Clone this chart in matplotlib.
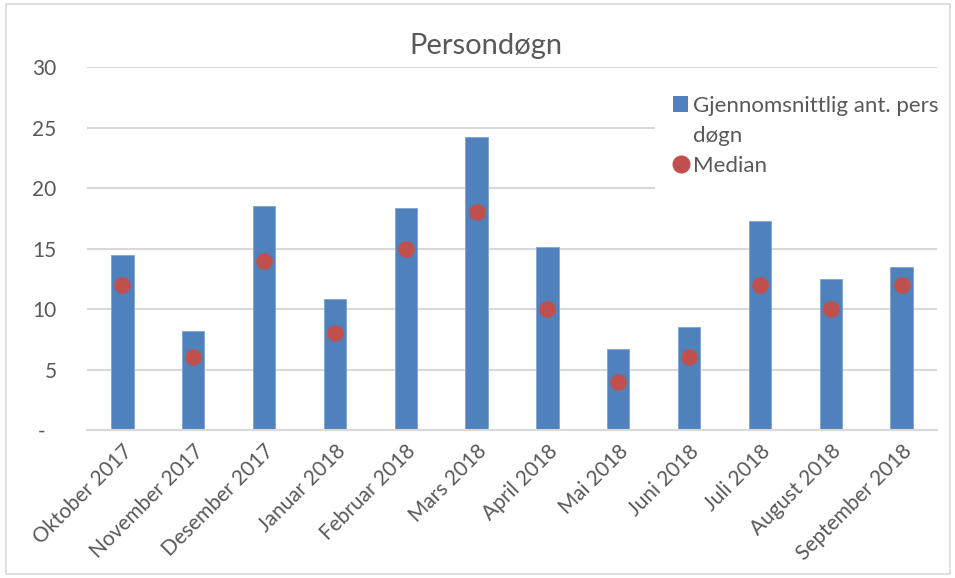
import matplotlib.pyplot as plt
from matplotlib.patches import Patch, Rectangle
from matplotlib.lines import Line2D

plt.rcParams['font.family'] = ['Lato', 'DejaVu Sans']

months = ['Oktober 2017', 'November 2017', 'Desember 2017', 'Januar 2018',
          'Februar 2018', 'Mars 2018', 'April 2018', 'Mai 2018', 'Juni 2018',
          'Juli 2018', 'August 2018', 'September 2018']
avg_pers = [14.45, 8.2, 18.55, 10.85, 18.4, 24.2, 15.15, 6.7, 8.55, 17.3, 12.45, 13.45]
median = [12, 6, 14, 8, 15, 18, 10, 4, 6, 12, 10, 12]
yticks = [0, 5, 10, 15, 20, 25, 30]
ytick_labels = ['-  ', '5', '10', '15', '20', '25', '30']

blue = '#4f81bd'
red = '#c0504d'
text_col = '#595959'
grid_col = '#d9d9d9'

fig = plt.figure(figsize=(9.55, 5.78), dpi=100)
ax = fig.add_axes([87 / 955, 1 - 430 / 578, 850 / 955, (430 - 67.3) / 578])

x = range(len(months))
ax.bar(x, avg_pers, width=0.315, color=blue, edgecolor='#7fa3d0', linewidth=0.6,
       zorder=2, label='Gjennomsnittlig ant. pers')
ax.plot(x, median, 'o', color=red, markersize=11, zorder=3, label='Median')

ax.set_xlim(-0.5, len(months) - 0.5)
ax.set_ylim(0, 30)
ax.set_yticks(yticks)
ax.set_yticklabels(ytick_labels)
ax.set_xticks(list(x))
ax.set_xticklabels(months, rotation=45, ha='right', rotation_mode='anchor')
ax.tick_params(axis='both', length=0, labelsize=15, colors=text_col)
ax.tick_params(axis='y', pad=22)
ax.tick_params(axis='x', pad=8)
ax.yaxis.grid(True, color=grid_col, linewidth=1.5, zorder=0)
ax.set_axisbelow(True)
for side in ['top', 'right', 'left']:
    ax.spines[side].set_visible(False)
ax.spines['bottom'].set_color(grid_col)
ax.spines['bottom'].set_linewidth(1.5)

fig.text(486 / 955, 1 - 46 / 578, 'Persondøgn', ha='center', va='center',
         fontsize=21, color=text_col)

handles = [Patch(facecolor=blue, edgecolor='none'),
           Patch(facecolor='none', edgecolor='none'),
           Line2D([], [], marker='o', color=red, linestyle='none', markersize=12)]
labels = ['Gjennomsnittlig ant. pers', 'døgn', 'Median']
leg = fig.legend(handles, labels, loc='upper left', bbox_to_anchor=(655 / 955, 1 - 78 / 578),
                 frameon=True, facecolor='white', edgecolor='none', framealpha=1,
                 fontsize=16, handlelength=0.7, handleheight=0.7, handletextpad=0.2,
                 labelspacing=0.45, borderpad=0.8, borderaxespad=0)
for t in leg.get_texts():
    t.set_color(text_col)
leg.set_zorder(5)

border = Rectangle((6 / 955, 4 / 578), 944 / 955, 570 / 578,
                   transform=fig.transFigure, fill=False,
                   edgecolor=grid_col, linewidth=1.2, zorder=10)
fig.patches.append(border)

fig.savefig('out.png', dpi=100)
